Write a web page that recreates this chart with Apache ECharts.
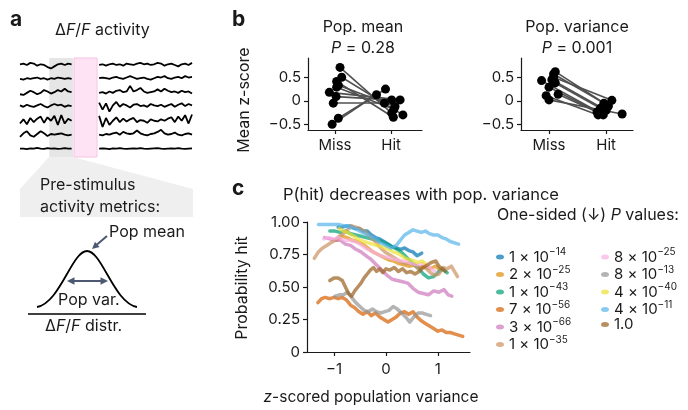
<!DOCTYPE html>
<html><head><meta charset="utf-8">
<script src="https://cdn.jsdelivr.net/npm/echarts@6/dist/echarts.min.js"></script>
<style>html,body{margin:0;padding:0;background:#fff}#chart{width:688px;height:410px}</style>
</head><body><div id="chart"></div>
<script>
const FONT = 'Inter, "DejaVu Sans", sans-serif';
const INK = '#1a1a1a';

// ---- Panel a: example dF/F traces (left = pre-stimulus window, right = after stimulus) ----
const traceLeftX = [0,2,4,6,8,10,12,14,16,18,20,22,24,26,28,30];
const traceRightX = [46,48,50,52,54,56,58,60,62,64,66,68,70,72,74,76,78,80,82,84,86,88,90,92,94,96,98,100];
const traceLeft = [
  [0.05,0.1,0.0,0.15,0.1,-0.05,0.05,0.0,-0.15,-0.25,-0.1,0.05,0.1,0.0,0.1,0.05],
  [0.0,-0.05,0.05,0.0,0.05,0.1,0.0,0.05,-0.05,0.05,0.0,0.1,0.05,0.0,0.05,0.0],
  [-0.1,-0.15,0.0,0.15,0.05,-0.1,0.0,0.2,0.1,-0.05,0.05,0.2,0.1,0.3,0.1,0.05],
  [0.1,0.0,0.15,0.05,0.0,0.1,0.2,0.05,-0.05,0.1,0.2,0.1,0.15,0.0,0.1,0.05],
  [-0.2,0.1,-0.25,0.2,-0.1,0.15,0.3,-0.15,0.25,0.0,0.35,-0.3,0.4,-0.2,0.15,0.0],
  [-0.15,0.1,0.25,-0.05,-0.15,0.05,0.25,0.1,-0.1,0.05,0.0,0.05,0.1,0.0,-0.05,0.0],
  [0.0,0.0,-0.03,0.02,0.0,0.05,0.0,-0.02,0.03,0.0,0.02,-0.02,0.0,0.03,0.0,0.0]
];
const traceRight = [
  [0.0,0.05,-0.05,0.05,0.1,0.0,0.05,-0.05,0.1,0.05,0.0,0.1,0.15,0.05,0.1,0.0,0.05,0.15,0.1,-0.05,0.05,0.1,0.0,-0.1,0.05,0.1,0.0,0.15],
  [0.05,0.1,0.05,0.0,0.1,0.15,0.05,0.0,0.1,0.2,0.1,0.0,0.05,0.1,0.0,-0.05,0.05,0.15,0.1,0.2,0.05,0.0,0.1,0.15,0.05,0.2,0.1,0.15],
  [0.0,0.05,-0.05,0.1,0.0,0.15,0.2,0.05,0.1,0.5,0.1,0.2,0.35,0.1,0.0,0.05,0.1,0.25,0.1,0.3,0.15,0.05,0.1,0.0,0.15,0.05,0.1,-0.05],
  [0.3,-0.2,0.25,-0.35,0.1,0.35,0.0,0.2,0.1,-0.05,0.15,0.2,0.05,0.1,0.0,0.2,0.1,0.05,0.15,0.0,0.1,0.2,0.0,0.15,0.25,0.05,0.2,0.1],
  [0.35,-0.45,0.2,-0.3,0.0,0.25,-0.1,0.15,-0.05,0.1,0.2,-0.1,0.05,0.0,-0.15,0.1,0.0,-0.05,0.1,0.0,0.15,0.25,-0.1,0.3,0.0,0.4,-0.2,0.45],
  [0.0,-0.05,0.05,0.0,0.1,0.15,0.0,0.2,0.1,0.05,0.1,0.3,0.1,0.0,-0.05,0.05,0.1,0.2,0.35,0.1,0.0,0.05,0.15,0.0,-0.05,0.05,0.1,0.0],
  [0.0,0.02,0.0,-0.03,0.02,0.0,0.03,0.0,-0.02,0.0,0.02,0.0,0.03,0.0,-0.02,0.0,0.02,0.03,0.0,-0.02,0.0,0.02,0.0,0.03,0.0,-0.02,0.0,0.02]
];
const traceRange = [-0.6, 6.5];
const preWindow = [17, 30.8];
const stimWindow = [31.4, 44.8];

// ---- Panel b: per-session mean z-scores, miss vs hit (x = jitter offset) ----
const meanMissX = [0.09, 0.12, 0.03, 0.06, 0.03, -0.10, 0.02, -0.03, 0.06, -0.05];
const meanMissY = [0.71, 0.50, 0.41, 0.33, 0.29, 0.18, 0.09, -0.05, -0.37, -0.50];
const meanHitX  = [0.01, 0.21, 0.04, 0.07, 0.05, 0.16, 0.01, -0.12, -0.10, -0.26];
const meanHitY  = [-0.26, -0.30, -0.35, -0.12, -0.18, 0.02, 0.02, -0.05, 0.25, 0.13];

const varMissX = [0.11, 0.08, 0.08, 0.05, -0.13, 0.11, 0.00, 0.16, -0.05, 0.00];
const varMissY = [0.62, 0.57, 0.50, 0.45, 0.43, 0.38, 0.29, 0.14, 0.11, 0.02];
const varHitX  = [0.04, -0.04, 0.10, 0.00, -0.10, -0.10, -0.05, -0.16, -0.14, 0.28];
const varHitY  = [-0.11, -0.05, 0.01, -0.20, -0.26, -0.16, -0.30, -0.24, -0.30, -0.28];

const groupLabels = ['Miss', 'Hit'];
const zTicks = [-0.5, 0, 0.5];

// ---- Panel c: P(hit) vs z-scored population variance, one curve per session ----
const pLabels = ['1 × 10^−14','2 × 10^−25','1 × 10^−43','7 × 10^−56','3 × 10^−66','1 × 10^−35',
                 '8 × 10^−25','8 × 10^−13','4 × 10^−40','4 × 10^−11','1.0'];
const curveColors = ['#0173b2','#de8f05','#029e73','#d55e00','#cc78bc','#ca9161',
                     '#fbafe4','#949494','#ece133','#56b4e9','#9a5f1c'];
const curve1 = [[-0.92,0.96],[-0.84,0.96],[-0.76,0.97],[-0.68,0.97],[-0.6,0.95],[-0.52,0.95],[-0.44,0.93],[-0.36,0.93],[-0.28,0.9],[-0.2,0.88],[-0.12,0.87],[-0.04,0.85],[0.04,0.83],[0.12,0.81],[0.2,0.8],[0.28,0.79],[0.36,0.8],[0.44,0.78],[0.52,0.77],[0.6,0.74],[0.69,0.76]];
const curve2 = [[-0.95,0.86],[-0.85,0.89],[-0.75,0.88],[-0.65,0.86],[-0.55,0.85],[-0.45,0.83],[-0.35,0.8],[-0.25,0.77],[-0.15,0.75],[-0.05,0.73],[0.05,0.71],[0.15,0.7],[0.25,0.68],[0.35,0.67],[0.45,0.66],[0.55,0.67],[0.65,0.65],[0.75,0.66],[0.85,0.64],[0.95,0.66],[1.02,0.64]];
const curve3 = [[-1.08,0.93],[-0.98,0.93],[-0.88,0.92],[-0.78,0.93],[-0.68,0.91],[-0.58,0.9],[-0.48,0.89],[-0.38,0.88],[-0.28,0.87],[-0.18,0.86],[-0.08,0.85],[0.02,0.83],[0.12,0.81],[0.22,0.79],[0.32,0.76],[0.42,0.72],[0.52,0.68],[0.62,0.65],[0.72,0.6],[0.82,0.57],[0.92,0.58],[1.02,0.62],[1.1,0.64],[1.18,0.61]];
const curve4 = [[-1.31,0.38],[-1.24,0.41],[-1.17,0.42],[-1.08,0.41],[-1.0,0.42],[-0.92,0.41],[-0.84,0.42],[-0.76,0.4],[-0.68,0.36],[-0.6,0.34],[-0.52,0.31],[-0.44,0.29],[-0.36,0.31],[-0.28,0.28],[-0.2,0.3],[-0.12,0.27],[-0.04,0.25],[0.04,0.23],[0.12,0.25],[0.2,0.27],[0.28,0.3],[0.36,0.31],[0.44,0.29],[0.52,0.31],[0.6,0.27],[0.68,0.24],[0.76,0.22],[0.84,0.2],[0.92,0.18],[1.0,0.16],[1.08,0.17],[1.16,0.15],[1.24,0.15],[1.32,0.14],[1.4,0.13],[1.48,0.12]];
const curve5 = [[-1.18,0.88],[-1.08,0.87],[-0.98,0.86],[-0.88,0.86],[-0.78,0.83],[-0.68,0.82],[-0.58,0.79],[-0.48,0.77],[-0.38,0.74],[-0.28,0.71],[-0.18,0.67],[-0.08,0.63],[0.02,0.59],[0.12,0.56],[0.22,0.55],[0.32,0.54],[0.42,0.53],[0.52,0.49],[0.62,0.46],[0.72,0.45],[0.82,0.44],[0.92,0.47],[1.02,0.46],[1.12,0.48],[1.2,0.44],[1.27,0.43]];
const curve6 = [[-1.38,0.72],[-1.3,0.77],[-1.22,0.8],[-1.14,0.82],[-1.06,0.84],[-0.98,0.86],[-0.9,0.89],[-0.82,0.91],[-0.74,0.94],[-0.66,0.97],[-0.58,0.96],[-0.5,0.95],[-0.42,0.93],[-0.34,0.9],[-0.26,0.87],[-0.18,0.84],[-0.1,0.8],[-0.02,0.77],[0.06,0.75],[0.14,0.73],[0.22,0.71],[0.3,0.69],[0.38,0.68],[0.46,0.68],[0.54,0.67],[0.62,0.64],[0.7,0.66],[0.78,0.64],[0.86,0.61],[0.94,0.59],[1.02,0.6],[1.1,0.65],[1.18,0.64],[1.26,0.66],[1.32,0.62],[1.38,0.58]];
const curve7 = [[-1.2,0.87],[-1.1,0.88],[-1.0,0.87],[-0.9,0.88],[-0.8,0.86],[-0.7,0.86],[-0.6,0.85],[-0.5,0.83],[-0.4,0.8],[-0.3,0.78],[-0.2,0.76],[-0.1,0.74],[0.0,0.73],[0.1,0.72],[0.2,0.71],[0.3,0.7],[0.4,0.7],[0.5,0.68],[0.6,0.67],[0.7,0.68],[0.8,0.66],[0.88,0.64],[0.95,0.62]];
const curve8 = [[-0.98,0.43],[-0.9,0.44],[-0.82,0.44],[-0.74,0.46],[-0.66,0.42],[-0.58,0.38],[-0.5,0.35],[-0.42,0.32],[-0.34,0.31],[-0.26,0.33],[-0.18,0.31],[-0.1,0.3],[-0.02,0.31],[0.06,0.32],[0.14,0.35],[0.22,0.33],[0.3,0.3],[0.38,0.27],[0.46,0.23],[0.54,0.27],[0.62,0.3],[0.7,0.3],[0.78,0.29],[0.86,0.28]];
const curve9 = [[-0.9,0.95],[-0.82,0.93],[-0.74,0.92],[-0.66,0.9],[-0.58,0.88],[-0.5,0.86],[-0.42,0.85],[-0.34,0.84],[-0.26,0.83],[-0.18,0.82],[-0.1,0.81],[-0.02,0.8],[0.06,0.79],[0.14,0.77],[0.22,0.76],[0.3,0.74],[0.38,0.72],[0.46,0.71],[0.54,0.7],[0.62,0.69],[0.7,0.7],[0.76,0.68]];
const curve10 = [[-1.3,0.98],[-1.2,0.98],[-1.1,0.98],[-1.0,0.98],[-0.9,0.98],[-0.8,0.97],[-0.7,0.96],[-0.6,0.95],[-0.5,0.93],[-0.4,0.91],[-0.3,0.89],[-0.2,0.87],[-0.1,0.84],[0.0,0.82],[0.1,0.8],[0.2,0.82],[0.28,0.86],[0.36,0.9],[0.44,0.92],[0.52,0.94],[0.6,0.93],[0.68,0.92],[0.76,0.93],[0.84,0.91],[0.92,0.9],[1.0,0.9],[1.08,0.88],[1.16,0.87],[1.24,0.85],[1.32,0.84],[1.4,0.83]];
const curve11 = [[-1.08,0.55],[-1.0,0.57],[-0.92,0.57],[-0.84,0.55],[-0.78,0.5],[-0.72,0.45],[-0.66,0.43],[-0.6,0.47],[-0.54,0.5],[-0.48,0.53],[-0.42,0.57],[-0.36,0.6],[-0.3,0.63],[-0.24,0.65],[-0.18,0.62],[-0.12,0.64],[-0.06,0.61],[0.0,0.64],[0.08,0.63],[0.16,0.65],[0.24,0.62],[0.32,0.64],[0.4,0.61],[0.48,0.62],[0.56,0.6],[0.64,0.62],[0.72,0.65],[0.8,0.67],[0.88,0.69],[0.96,0.7],[1.02,0.66],[1.08,0.64],[1.14,0.62]];
const curves = [curve1,curve2,curve3,curve4,curve5,curve6,curve7,curve8,curve9,curve10,curve11];
const zTicksX = [-1, 0, 1];

// ---------------------------------------------------------------------------
const fmtNum = v => (v < 0 ? '\u2212' : '') + Math.abs(v);
const baseText = { fontFamily: FONT, fontSize: 15, color: INK };

function pairAxisX(grid, min, max) {
  return {
    gridIndex: grid, type: 'value', min, max,
    axisLine: { onZero: false, lineStyle: { color: INK, width: 1.2 } },
    axisTick: { length: 4, lineStyle: { color: INK, width: 1.2 }, customValues: [0, 1] },
    axisLabel: Object.assign({}, baseText, { margin: 8, customValues: [0, 1], formatter: v => groupLabels[Math.round(v)] }),
    splitLine: { show: false }
  };
}
function pairAxisY(grid) {
  return {
    gridIndex: grid, type: 'value', min: -0.62, max: 0.91,
    axisLine: { show: true, onZero: false, lineStyle: { color: INK, width: 1.2 } },
    axisTick: { show: true, length: 4, lineStyle: { color: INK, width: 1.2 }, customValues: zTicks },
    axisLabel: Object.assign({}, baseText, { margin: 7, customValues: zTicks, formatter: fmtNum }),
    splitLine: { show: false }
  };
}
function pairSeries(axisIdx, missX, missY, hitX, hitY) {
  const links = missY.map((y, i) => ({ coords: [[missX[i], y], [1 + hitX[i], hitY[i]]] }));
  const pts = missY.map((y, i) => [missX[i], y]).concat(hitY.map((y, i) => [1 + hitX[i], y]));
  return [
    { type: 'lines', coordinateSystem: 'cartesian2d', xAxisIndex: axisIdx, yAxisIndex: axisIdx,
      data: links, lineStyle: { color: '#505050', width: 1.6, opacity: 1 }, silent: true, z: 2 },
    { type: 'scatter', xAxisIndex: axisIdx, yAxisIndex: axisIdx, data: pts, symbolSize: 9,
      itemStyle: { color: '#000', opacity: 1 }, silent: true, z: 3 }
  ];
}

const windowFill = ['#e6e6e6', '#fde3f4'];
const series = [];
// shaded analysis windows behind the traces (grey = pre-stimulus, pink = stimulus)
series.push({ type: 'custom', xAxisIndex: 0, yAxisIndex: 0, silent: true, z: 1, clip: false,
  encode: { x: [0, 1] },
  data: [[preWindow[0], preWindow[1], 0], [stimWindow[0], stimWindow[1], 1]],
  renderItem: (params, api) => {
    const kind = api.value(2);
    const p0 = api.coord([api.value(0), traceRange[1]]);
    const p1 = api.coord([api.value(1), traceRange[0]]);
    return { type: 'rect', z2: 1, shape: { x: p0[0], y: p0[1], width: p1[0] - p0[0], height: p1[1] - p0[1] },
      style: { fill: windowFill[kind], stroke: kind === 1 ? '#f6c4e5' : null, lineWidth: 1, opacity: 1 } };
  } });
traceLeft.forEach((row, r) => {
  const base = 6 - r;
  series.push({ type: 'line', xAxisIndex: 0, yAxisIndex: 0, showSymbol: false, silent: true,
    data: row.map((v, i) => [traceLeftX[i], base + v]),
    lineStyle: { color: '#000', width: 1.8 }, z: 3 });
  series.push({ type: 'line', xAxisIndex: 0, yAxisIndex: 0, showSymbol: false, silent: true,
    data: traceRight[r].map((v, i) => [traceRightX[i], base + v]),
    lineStyle: { color: '#000', width: 1.8 }, z: 3 });
});
series.push(...pairSeries(1, meanMissX, meanMissY, meanHitX, meanHitY));
series.push(...pairSeries(2, varMissX, varMissY, varHitX, varHitY));
curves.forEach((c, i) => {
  series.push({ type: 'line', name: pLabels[i], xAxisIndex: 3, yAxisIndex: 3, data: c,
    showSymbol: false, symbol: 'none', silent: true,
    itemStyle: { color: curveColors[i], opacity: 0.7 },
    lineStyle: { color: curveColors[i], width: 3.5, opacity: 0.7, join: 'round', cap: 'round' } });
});

const legendRich = {
  m: { fontFamily: FONT, fontSize: 15, color: INK, lineHeight: 20 },
  e: { fontFamily: FONT, fontSize: 10, color: INK, lineHeight: 12, verticalAlign: 'top' }
};
const legendFmt = name => {
  const p = name.split('^');
  return p.length > 1 ? '{m|' + p[0] + '}{e|' + p[1] + '}' : '{m|' + name + '}';
};
const legendBase = {
  orient: 'vertical', itemWidth: 8, itemHeight: 5, itemGap: 0,
  icon: 'path://M0,2.5A4,2.5 0 1,0 8,2.5A4,2.5 0 1,0 0,2.5Z',
  selectedMode: false, formatter: legendFmt, padding: 0,
  textStyle: { rich: legendRich }
};

const g = [];
const txt = (text, x, y, opt, rot) => {
  const el = { type: 'text', silent: true, z: 10, x, y,
    style: Object.assign({ text, x: 0, y: 0, fontFamily: FONT, fontSize: 16, fill: INK, align: 'left', verticalAlign: 'middle' }, opt || {}) };
  if (rot) el.rotation = rot;
  g.push(el);
};
const italicRich = { n: { fontFamily: FONT, fontSize: 16, fill: INK }, i: { fontFamily: FONT, fontSize: 16, fill: INK, fontStyle: 'italic' } };

// panel letters
txt('a', 10, 20, { fontSize: 21, fontWeight: 'bold' });
txt('b', 232, 20, { fontSize: 21, fontWeight: 'bold' });
txt('c', 232, 189, { fontSize: 21, fontWeight: 'bold' });

// panel a annotations: projection wedge and label box under the pre-stimulus window
g.push({ type: 'polygon', silent: true, z: 0, shape: { points: [[49,157],[73,157],[193,189],[20,189]] }, style: { fill: '#efefef' } });
g.push({ type: 'rect', silent: true, z: 0, shape: { x: 20, y: 189, width: 173, height: 28 }, style: { fill: '#efefef' } });
txt('{n|\u0394}{i|F}{n|/}{i|F}{n| activity}', 55, 30, { rich: italicRich });
txt('Pre-stimulus', 40, 185);
txt('activity metrics:', 40, 207);
txt('Pop mean', 109, 232);
txt('Pop var.', 58, 300);
txt('{n|\u0394}{i|F}{n|/}{i|F}{n| distr.}', 45, 326, { rich: italicRich });
g.push({ type: 'bezierCurve', silent: true, z: 5,
  shape: { x1: 37, y1: 307, cpx1: 60, cpy1: 303, cpx2: 72, cpy2: 251, x2: 87, y2: 251 },
  style: { stroke: '#000', lineWidth: 1.8, fill: null } });
g.push({ type: 'bezierCurve', silent: true, z: 5,
  shape: { x1: 87, y1: 251, cpx1: 102, cpy1: 251, cpx2: 114, cpy2: 303, x2: 137, y2: 307 },
  style: { stroke: '#000', lineWidth: 1.8, fill: null } });
g.push({ type: 'line', silent: true, z: 5, shape: { x1: 28, y1: 314, x2: 146, y2: 314 }, style: { stroke: '#000', lineWidth: 1.3 } });
const AR = '#4d5872';
g.push({ type: 'line', silent: true, z: 5, shape: { x1: 107, y1: 236, x2: 97, y2: 244.6 }, style: { stroke: AR, lineWidth: 2 } });
g.push({ type: 'polygon', silent: true, z: 5, shape: { points: [[92,249],[99.6,247],[95,241.8]] }, style: { fill: AR } });
g.push({ type: 'line', silent: true, z: 5, shape: { x1: 73, y1: 281, x2: 102, y2: 281 }, style: { stroke: AR, lineWidth: 2 } });
g.push({ type: 'polygon', silent: true, z: 5, shape: { points: [[67,281],[74.5,277.3],[74.5,284.7]] }, style: { fill: AR } });
g.push({ type: 'polygon', silent: true, z: 5, shape: { points: [[108,281],[100.5,277.3],[100.5,284.7]] }, style: { fill: AR } });

// panel b titles and axis name
txt('Pop. mean', 363, 27, { align: 'center' });
txt('{i|P}{n| = 0.28}', 363, 48, { align: 'center', rich: italicRich });
txt('Pop. variance', 577, 27, { align: 'center' });
txt('{i|P}{n| = 0.001}', 577, 48, { align: 'center', rich: italicRich });
txt('Mean z-score', 244, 100, { align: 'center' }, Math.PI / 2);

// panel c titles, axis names, legend heading
txt('P(hit) decreases with pop. variance', 283, 195, { fontSize: 16.5 });
txt('{n|One-sided (\u2193) }{i|P}{n| values:}', 497, 215, { rich: italicRich });
txt('Probability hit', 242, 288, { align: 'center' }, Math.PI / 2);
txt('{i|z}{n|-scored population variance}', 371, 397, { align: 'center', rich: {
  n: { fontFamily: FONT, fontSize: 15.5, fill: INK }, i: { fontFamily: FONT, fontSize: 15.5, fill: INK, fontStyle: 'italic' } } });

const option = {
  animation: false,
  backgroundColor: '#fff',
  grid: [
    { left: 20, top: 58, width: 172, height: 99 },
    { left: 308, top: 58, width: 114, height: 72 },
    { left: 521, top: 58, width: 112, height: 72 },
    { left: 307, top: 222, width: 163, height: 130 }
  ],
  xAxis: [
    { gridIndex: 0, type: 'value', min: 0, max: 100, show: false },
    pairAxisX(1, -0.48, 1.55),
    pairAxisX(2, -0.49, 1.47),
    { gridIndex: 3, type: 'value', min: -1.52, max: 1.62,
      axisLine: { onZero: false, lineStyle: { color: INK, width: 1.2 } },
      axisTick: { length: 4, lineStyle: { color: INK, width: 1.2 }, customValues: zTicksX },
      axisLabel: Object.assign({}, baseText, { margin: 10, customValues: zTicksX, formatter: fmtNum }),
      splitLine: { show: false } }
  ],
  yAxis: [
    { gridIndex: 0, type: 'value', min: traceRange[0], max: traceRange[1], show: false },
    pairAxisY(1),
    pairAxisY(2),
    { gridIndex: 3, type: 'value', min: 0, max: 1, interval: 0.25,
      axisLine: { show: true, onZero: false, lineStyle: { color: INK, width: 1.2 } },
      axisTick: { show: true, length: 4, lineStyle: { color: INK, width: 1.2 } },
      axisLabel: Object.assign({}, baseText, { margin: 7, formatter: v => (v === 0 ? '0' : v.toFixed(2)) }),
      splitLine: { show: false } }
  ],
  legend: [
    Object.assign({}, legendBase, { left: 496, top: 247, data: pLabels.slice(0, 6) }),
    Object.assign({}, legendBase, { left: 601, top: 247, data: pLabels.slice(6) })
  ],
  graphic: g,
  series
};

const chart = echarts.init(document.getElementById('chart'), null, { renderer: 'canvas' });
chart.setOption(option);
</script>
</body></html>
